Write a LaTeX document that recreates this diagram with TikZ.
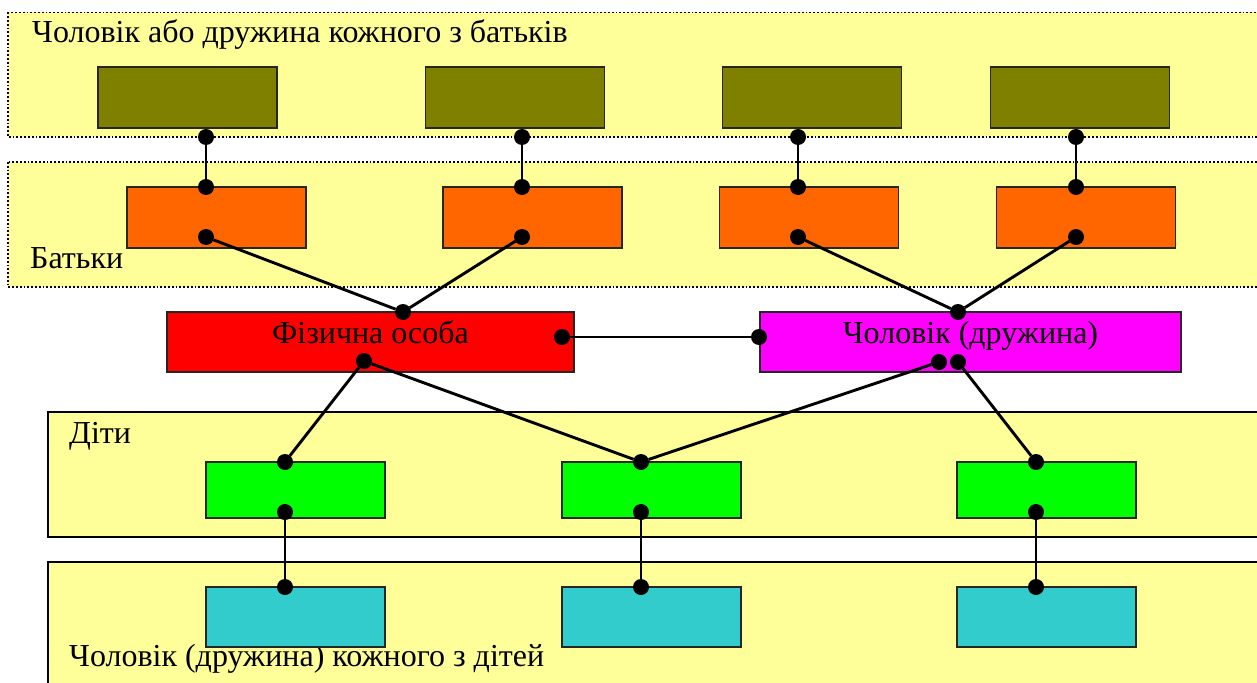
\documentclass[tikz,border=0pt]{standalone}
\usepackage{fontspec}
\setmainfont{Liberation Serif}
\definecolor{bandyellow}{HTML}{FFFF99}
\definecolor{oliveb}{HTML}{808000}
\definecolor{orangeb}{HTML}{FF6600}
\definecolor{redb}{HTML}{FF0000}
\definecolor{magentab}{HTML}{FF00FF}
\definecolor{greenb}{HTML}{00FF00}
\definecolor{cyanb}{HTML}{33CCCC}
\begin{document}
\begin{tikzpicture}[x=1pt,y=-1pt,
  band/.style={fill=bandyellow, draw=black, line width=1.8pt},
  box/.style={draw=black!85, line width=1.8pt, minimum width=179pt, minimum height=61pt, inner sep=0pt, outer sep=0pt},
  dot/.style={circle, fill=black, minimum size=16pt, inner sep=0pt, outer sep=0pt},
  conn/.style={line width=2.9pt},
  lbl/.style={font=\fontsize{32}{36}\selectfont, inner sep=0pt}]
\useasboundingbox (0,0) rectangle (1257,682);
\clip (0,0) rectangle (1257,682);
% bands
\draw[band, dotted] (8,12.5) rectangle (1275,137);
\draw[band, dotted] (8,162) rectangle (1275,287);
\draw[band] (48,412) rectangle (1275,537);
\draw[band] (48,562) rectangle (1275,700);
% band labels
\node[lbl, anchor=base west] (t1) at (32,43) {Чоловік або дружина кожного з батьків};
\node[lbl, anchor=base west] (t2) at (30,268) {Батьки};
\node[lbl, anchor=base west] (t3) at (69,443) {Діти};
\node[lbl, anchor=base west] (t4) at (69,666) {Чоловік (дружина) кожного з дітей};
% boxes
\node[box, fill=oliveb] (o1) at (187.5,97.5) {};
\node[box, fill=oliveb] (o2) at (515,97.5) {};
\node[box, fill=oliveb] (o3) at (812,97.5) {};
\node[box, fill=oliveb] (o4) at (1080,97.5) {};
\node[box, fill=orangeb] (r1) at (216.5,217.5) {};
\node[box, fill=orangeb] (r2) at (532.5,217.5) {};
\node[box, fill=orangeb] (r3) at (809,217.5) {};
\node[box, fill=orangeb] (r4) at (1086,217.5) {};
\node[box, fill=redb, minimum width=407pt, minimum height=60pt] (p) at (370.5,342) {};
\node[box, fill=magentab, minimum width=421pt, minimum height=60pt] (s) at (970.5,342) {};
\node[box, fill=greenb, minimum height=56pt] (g1) at (295.5,490) {};
\node[box, fill=greenb, minimum height=56pt] (g2) at (651.5,490) {};
\node[box, fill=greenb, minimum height=56pt] (g3) at (1046.5,490) {};
\node[box, fill=cyanb, minimum height=60pt] (c1) at (295.5,617) {};
\node[box, fill=cyanb, minimum height=60pt] (c2) at (651.5,617) {};
\node[box, fill=cyanb, minimum height=60pt] (c3) at (1046.5,617) {};
\node[lbl, anchor=base] (pt) at (370.5,343) {Фізична особа};
\node[lbl, anchor=base] (st) at (970.5,343) {Чоловік (дружина)};
% dots
\node[dot] (o1b) at (206,137) {};
\node[dot] (o2b) at (522,137) {};
\node[dot] (o3b) at (798,137) {};
\node[dot] (o4b) at (1076,137) {};
\node[dot] (r1t) at (206,187) {};
\node[dot] (r2t) at (522,187) {};
\node[dot] (r3t) at (798,187) {};
\node[dot] (r4t) at (1076,187) {};
\node[dot] (r1i) at (206,237) {};
\node[dot] (r2i) at (522,237) {};
\node[dot] (r3i) at (798,237) {};
\node[dot] (r4i) at (1076,237) {};
\node[dot] (pT) at (403,312) {};
\node[dot] (pR) at (562,337) {};
\node[dot] (pB) at (364,361) {};
\node[dot] (sT) at (958,312) {};
\node[dot] (sL) at (759,337) {};
\node[dot] (sB1) at (939,362) {};
\node[dot] (sB2) at (958,362) {};
\node[dot] (g1t) at (285,462) {};
\node[dot] (g2t) at (641,462) {};
\node[dot] (g3t) at (1036,462) {};
\node[dot] (g1i) at (285,512) {};
\node[dot] (g2i) at (641,512) {};
\node[dot] (g3i) at (1036,512) {};
\node[dot] (c1t) at (285,587) {};
\node[dot] (c2t) at (641,587) {};
\node[dot] (c3t) at (1036,587) {};
% connectors
\draw[conn] (o1b) -- (r1t);
\draw[conn] (o2b) -- (r2t);
\draw[conn] (o3b) -- (r3t);
\draw[conn] (o4b) -- (r4t);
\draw[conn] (r1i) -- (pT);
\draw[conn] (r2i) -- (pT);
\draw[conn] (r3i) -- (sT);
\draw[conn] (r4i) -- (sT);
\draw[conn] (pR) -- (sL);
\draw[conn] (pB) -- (g1t);
\draw[conn] (pB) -- (g2t);
\draw[conn] (sB1) -- (g2t);
\draw[conn] (sB2) -- (g3t);
\draw[conn] (g1i) -- (c1t);
\draw[conn] (g2i) -- (c2t);
\draw[conn] (g3i) -- (c3t);
\end{tikzpicture}
\end{document}
